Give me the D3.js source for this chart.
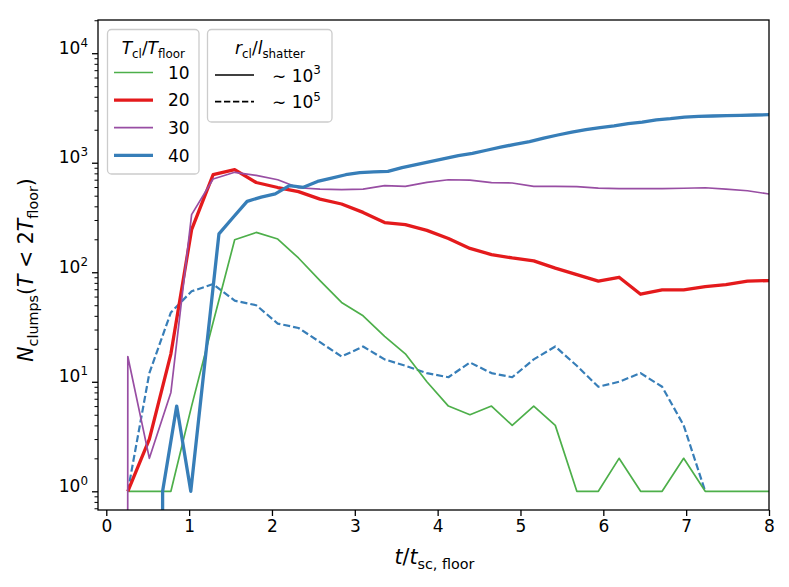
<!DOCTYPE html>
<html>
<head>
<meta charset="utf-8">
<script src="https://cdn.jsdelivr.net/npm/d3@7/dist/d3.min.js"></script>
<style>
  body { margin: 0; background: #fff; }
  text { font-family: "DejaVu Sans", sans-serif; fill: #000; white-space: pre; }
</style>
</head>
<body>
<div id="chart"></div>
<script>
// time grids (t / t_sc,floor)
const tMain = [0.26, 0.52, 0.78, 1.03, 1.29, 1.55, 1.81, 2.07, 2.32, 2.58, 2.84, 3.10, 3.36, 3.61, 3.87,
  4.13, 4.39, 4.65, 4.90, 5.16, 5.42, 5.68, 5.94, 6.19, 6.45, 6.71, 6.97, 7.23, 7.48, 7.74, 8.00];
const tPurple = [0.0, 0.26, 0.52, 0.78, 1.03, 1.29, 1.55, 1.81, 2.07, 2.32, 2.58, 2.84, 3.10, 3.36, 3.61, 3.87,
  4.13, 4.39, 4.65, 4.90, 5.16, 5.42, 5.68, 5.94, 6.19, 6.45, 6.71, 6.97, 7.23, 7.48, 7.74, 8.00];
const tBlue = [0.51, 0.68, 0.85, 1.02, 1.19, 1.36, 1.53, 1.70, 1.87, 2.04, 2.21, 2.38, 2.55, 2.72, 2.89,
  3.06, 3.23, 3.40, 3.57, 3.74, 3.91, 4.08, 4.25, 4.42, 4.59, 4.76, 4.93, 5.11, 5.28, 5.45, 5.62, 5.79,
  5.96, 6.13, 6.30, 6.47, 6.64, 6.81, 6.98, 7.15, 7.32, 7.49, 7.66, 7.83, 8.00];
const tDashed = [0.26, 0.52, 0.78, 1.03, 1.29, 1.55, 1.81, 2.07, 2.32, 2.58, 2.84, 3.10, 3.36, 3.61, 3.87,
  4.13, 4.39, 4.65, 4.90, 5.16, 5.42, 5.68, 5.94, 6.19, 6.45, 6.71, 6.97, 7.23];

// N_clumps(T < 2 T_floor)
const n10 = [1, 1, 1, 6, 35, 198, 231, 201, 135, 84, 53, 40, 26, 18, 10, 6, 5, 6, 4, 6, 4, 1, 1, 2, 1, 1, 2, 1, 1, 1, 1];
const n20 = [1, 3, 18, 245, 780, 866, 660, 594, 545, 465, 420, 352, 284, 272, 241, 203, 165, 145, 135, 127,
  109, 95, 83, 90, 63, 69, 69, 74, 77, 83, 84];
const n30 = [0, 17, 2, 8, 336, 711, 818, 766, 699, 591, 573, 567, 575, 617, 608, 661, 699, 695, 657, 653,
  608, 608, 604, 587, 579, 579, 579, 585, 591, 573, 555, 518];
const n40 = [0, 1, 6, 1, 15, 224, 316, 444, 486, 520, 619, 596, 675, 722, 777, 811, 826, 833, 902, 963,
  1025, 1090, 1160, 1215, 1300, 1386, 1472, 1559, 1678, 1791, 1902, 2001, 2092, 2168, 2280, 2349, 2465,
  2523, 2604, 2654, 2670, 2692, 2710, 2727, 2744];
const n40big = [1, 12, 43, 67, 78, 55, 50, 34, 31, 23, 17, 21, 16, 14, 12, 11, 15, 12, 11, 16, 21, 14, 9, 10, 12, 9, 4, 1];

const ratioLabels = ["10", "20", "30", "40"];
const sizeExps = ["3", "5"];
const xTicks = [0, 1, 2, 3, 4, 5, 6, 7, 8];
const yTicks = [1, 10, 100, 1000, 10000];

const W = 789, H = 587;
const plot = { left: 98, right: 769, top: 20, bottom: 510 };
const FS = 17;      // tick / legend text
const LFS = 20.5;   // axis labels

const svg = d3.select("#chart").append("svg")
  .attr("width", W).attr("height", H);

const x = d3.scaleLinear().domain([-0.1, 8]).range([plot.left, plot.right]);
const y = d3.scaleLog().domain([0.675, 2.01e4]).range([plot.bottom, plot.top]);

// matplotlib clips non-positive values to a tiny number -> near-vertical drop
const yv = v => y(v > 0 ? v : 1e-300);

svg.append("clipPath").attr("id", "clip")
  .append("rect")
  .attr("x", plot.left).attr("y", plot.top)
  .attr("width", plot.right - plot.left).attr("height", plot.bottom - plot.top);

// rich text helper: parts = [{t, it, sub, sup}]
function rich(textSel, parts, size) {
  let shift = 0;
  parts.forEach(p => {
    const target = p.sub ? size * 0.24 : p.sup ? -size * 0.42 : 0;
    textSel.append("tspan")
      .attr("dy", target - shift)
      .attr("font-size", (p.sub || p.sup) ? size * 0.7 : size)
      .attr("font-style", p.it ? "italic" : null)
      .text(p.t);
    shift = target;
  });
  return textSel;
}

const series = [
  { t: tDashed, v: n40big, color: "#377eb8", width: 2.2, dash: "7,3" },
  { t: tMain, v: n10, color: "#4daf4a", width: 1.7 },
  { t: tMain, v: n20, color: "#e41a1c", width: 3.3 },
  { t: tPurple, v: n30, color: "#984ea3", width: 1.7 },
  { t: tBlue, v: n40, color: "#377eb8", width: 3.3 }
];

const line = d3.line().x(d => x(d[0])).y(d => yv(d[1]));

svg.append("g").attr("clip-path", "url(#clip)")
  .selectAll("path")
  .data(series)
  .enter()
  .append("path")
  .attr("d", s => line(s.t.map((t, i) => [t, s.v[i]])))
  .attr("fill", "none")
  .attr("stroke", s => s.color)
  .attr("stroke-width", s => s.width)
  .attr("stroke-dasharray", s => s.dash || null)
  .attr("stroke-linejoin", "round");

// x axis
const xAxis = svg.append("g")
  .attr("transform", `translate(0,${plot.bottom})`)
  .call(d3.axisBottom(x).tickValues(xTicks).tickFormat(d3.format("d")).tickSize(6).tickPadding(4));
xAxis.select(".domain").remove();
xAxis.selectAll(".tick line").attr("stroke", "#000").attr("stroke-width", 1.3);
xAxis.selectAll(".tick text").attr("font-size", FS).attr("font-family", "DejaVu Sans");

// y axis: major ticks
const yAxis = svg.append("g")
  .attr("transform", `translate(${plot.left},0)`)
  .call(d3.axisLeft(y).tickValues(yTicks).tickFormat("").tickSize(6));
yAxis.select(".domain").remove();
yAxis.selectAll(".tick line").attr("stroke", "#000").attr("stroke-width", 1.3);
yAxis.selectAll(".tick").each(function(d) {
  const t = d3.select(this).append("text")
    .attr("x", -10).attr("dy", "0.32em")
    .attr("text-anchor", "end")
    .attr("font-size", FS);
  rich(t, [{ t: "10" }, { t: String(Math.round(Math.log10(d))), sup: true }], FS);
});

// y axis: minor ticks
const minor = y.ticks().filter(v => Math.abs(Math.log10(v) - Math.round(Math.log10(v))) > 1e-6);
const yMinor = svg.append("g")
  .attr("transform", `translate(${plot.left},0)`)
  .call(d3.axisLeft(y).tickValues(minor).tickFormat("").tickSize(3.5));
yMinor.select(".domain").remove();
yMinor.selectAll(".tick line").attr("stroke", "#000").attr("stroke-width", 1);

// frame
svg.append("rect")
  .attr("x", plot.left).attr("y", plot.top)
  .attr("width", plot.right - plot.left).attr("height", plot.bottom - plot.top)
  .attr("fill", "none").attr("stroke", "#000").attr("stroke-width", 1.3);

// axis labels
rich(svg.append("text")
  .attr("transform", `translate(33,270) rotate(-90)`)
  .attr("text-anchor", "middle"),
  [{ t: "N", it: true }, { t: "clumps", sub: true }, { t: "(" }, { t: "T", it: true }, { t: " < 2" },
   { t: "T", it: true }, { t: "floor", sub: true }, { t: ")" }], LFS);

rich(svg.append("text")
  .attr("x", 434.5).attr("y", 564)
  .attr("text-anchor", "middle"),
  [{ t: "t", it: true }, { t: "/" }, { t: "t", it: true }, { t: "sc, floor", sub: true }], LFS);

// legend 1: temperature ratio
const leg1 = svg.append("g");
leg1.append("rect")
  .attr("x", 107.5).attr("y", 29.5).attr("width", 91.5).attr("height", 144.5).attr("rx", 4)
  .attr("fill", "#fff").attr("fill-opacity", 0.8).attr("stroke", "#cccccc").attr("stroke-width", 1.3);
rich(leg1.append("text").attr("x", 153.3).attr("y", 53.5).attr("text-anchor", "middle"),
  [{ t: "T", it: true }, { t: "cl", sub: true }, { t: "/" }, { t: "T", it: true }, { t: "floor", sub: true }], FS);
const solids = series.slice(1);
ratioLabels.forEach((lab, i) => {
  const yy = 72.5 + i * 27.6;
  leg1.append("line")
    .attr("x1", 114).attr("x2", 153).attr("y1", yy).attr("y2", yy)
    .attr("stroke", solids[i].color).attr("stroke-width", solids[i].width);
  leg1.append("text").attr("x", 168).attr("y", yy + 6.3).attr("font-size", FS).text(lab);
});

// legend 2: cloud size
const leg2 = svg.append("g");
leg2.append("rect")
  .attr("x", 207.5).attr("y", 29.5).attr("width", 124.5).attr("height", 92.5).attr("rx", 4)
  .attr("fill", "#fff").attr("fill-opacity", 0.8).attr("stroke", "#cccccc").attr("stroke-width", 1.3);
rich(leg2.append("text").attr("x", 270).attr("y", 53.5).attr("text-anchor", "middle"),
  [{ t: "r", it: true }, { t: "cl", sub: true }, { t: "/" }, { t: "l", it: true }, { t: "shatter", sub: true }], FS);
sizeExps.forEach((e, i) => {
  const yy = 75 + i * 26.7;
  leg2.append("line")
    .attr("x1", 215).attr("x2", 254).attr("y1", yy).attr("y2", yy)
    .attr("stroke", "#000").attr("stroke-width", 1.7)
    .attr("stroke-dasharray", i === 1 ? "6.3,2.7" : null);
  rich(leg2.append("text").attr("x", 272).attr("y", yy + 6.5),
    [{ t: "\u223C 10" }, { t: e, sup: true }], FS);
});
</script>
</body>
</html>
